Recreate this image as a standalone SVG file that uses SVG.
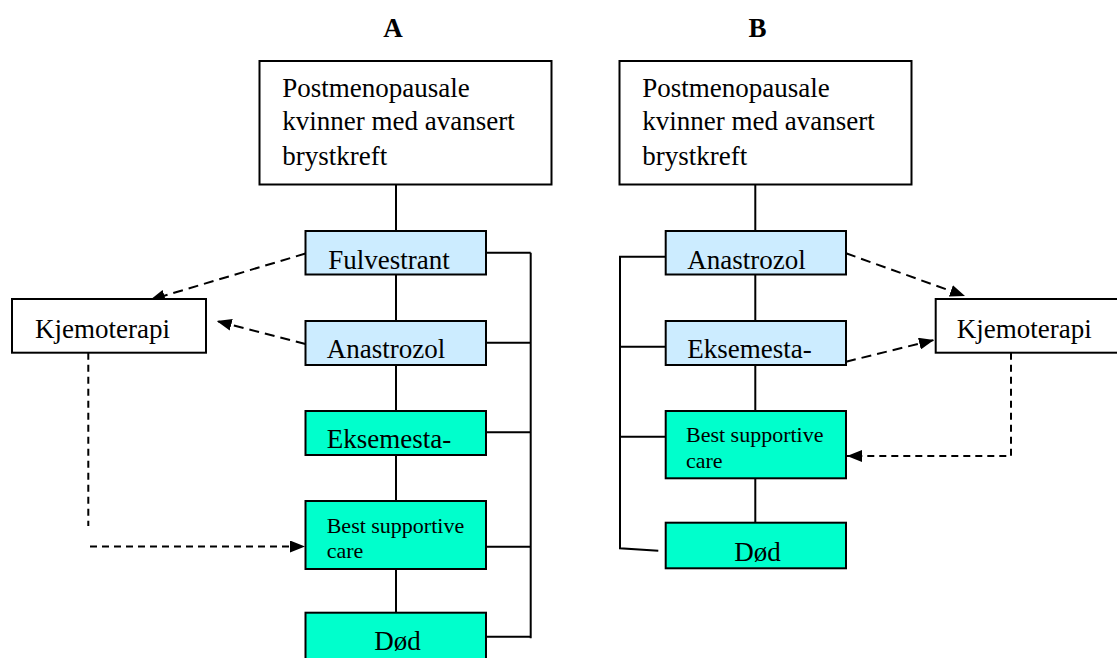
<svg xmlns="http://www.w3.org/2000/svg" width="1117" height="658" viewBox="0 0 1117 658">
<style>
text{font-family:"Liberation Serif","Times New Roman",serif;font-size:27px;fill:#000}
.h{font-weight:bold}
.sm{font-size:22px}
.box{stroke:#000;stroke-width:2}
.w{fill:#fff}
.lb{fill:#CCECFF}
.tq{fill:#00FFCC}
.ln{fill:none;stroke:#000;stroke-width:2}
.dl{fill:none;stroke:#000;stroke-width:2;stroke-dasharray:10 6}
.ds{fill:none;stroke:#000;stroke-width:2;stroke-dasharray:7 5}
</style>
<defs>
<marker id="ah" viewBox="0 0 15 12" refX="15" refY="6" markerWidth="15" markerHeight="12" orient="auto" markerUnits="userSpaceOnUse">
<path d="M0,0 L15,6 L0,12 z" fill="#000"/>
</marker>
</defs>
<text class="h" x="393" y="37" text-anchor="middle">A</text>
<text class="h" x="757.5" y="37" text-anchor="middle">B</text>
<g id="connectors">
<path class="ln" d="M396,184.3V231M396,274.3V321M396,365V411M396,455V501M396,569V612.7"/>
<path class="ln" d="M486,252.7H530.7M486,342.7H530.7M486,432.3H530.7M486,546.7H530.7M486,636.7H530.7M530.7,252.7V638.3"/>
<path class="ln" d="M755.3,184.3V231M755.3,274.3V321M755.3,365V411M755.3,478.3V522.7"/>
<path class="ln" d="M665.7,256.7H620V548.3L658.3,550.7M620,346.7H665.7M620,436.7H665.7"/>
<path class="dl" d="M305.5,253.5L150,300" marker-end="url(#ah)"/>
<path class="dl" d="M305.5,344L216.7,321" marker-end="url(#ah)"/>
<path class="ds" d="M88.3,352.7V526"/>
<path class="ds" d="M90,546.5H305" marker-end="url(#ah)"/>
<path class="dl" d="M846,253.3L965,296" marker-end="url(#ah)"/>
<path class="dl" d="M846,361.7L934,340" marker-end="url(#ah)"/>
<path class="ds" d="M1011,352.7V456H847" marker-end="url(#ah)"/>
</g>
<g id="a-top"><rect class="box w" x="259.5" y="61" width="292" height="123.5"/>
<text x="282.3" y="97">Postmenopausale</text><text x="282.3" y="130">kvinner med avansert</text><text x="282.3" y="165">brystkreft</text></g>
<g id="a-fulvestrant"><rect class="box lb" x="305.5" y="231" width="180.5" height="43.5"/><text x="328.3" y="269.3">Fulvestrant</text></g>
<g id="a-anastrozol"><rect class="box lb" x="305.5" y="321" width="180.5" height="44"/><text x="326.7" y="358.3">Anastrozol</text></g>
<g id="a-eksemestan"><rect class="box tq" x="305.5" y="411" width="180.5" height="44"/><text x="326.7" y="448.3">Eksemesta-</text></g>
<g id="a-bsc"><rect class="box tq" x="305.5" y="501" width="180.5" height="68"/><text class="sm" x="326.7" y="532.7">Best supportive</text><text class="sm" x="326.7" y="558.3">care</text></g>
<g id="a-dod"><rect class="box tq" x="305.5" y="612.7" width="180.5" height="60"/><text x="374.3" y="650">Død</text></g>
<g id="a-kjemo"><rect class="box w" x="12" y="299" width="194" height="53.7"/><text x="35" y="338.3">Kjemoterapi</text></g>
<g id="b-top"><rect class="box w" x="619.5" y="61" width="292" height="123.5"/>
<text x="642.3" y="97">Postmenopausale</text><text x="642.3" y="130">kvinner med avansert</text><text x="642.3" y="165">brystkreft</text></g>
<g id="b-anastrozol"><rect class="box lb" x="665.7" y="231" width="180.3" height="43.5"/><text x="687.3" y="269.3">Anastrozol</text></g>
<g id="b-eksemestan"><rect class="box lb" x="665.7" y="321" width="180.3" height="44"/><text x="687.3" y="358.3">Eksemesta-</text></g>
<g id="b-bsc"><rect class="box tq" x="665.7" y="411" width="180.3" height="67.3"/><text class="sm" x="686" y="441.7">Best supportive</text><text class="sm" x="686" y="468.3">care</text></g>
<g id="b-dod"><rect class="box tq" x="665.7" y="522.7" width="180.3" height="45.6"/><text x="734.3" y="560.7">Død</text></g>
<g id="b-kjemo"><rect class="box w" x="935.7" y="299" width="190" height="53.7"/><text x="956.7" y="338.3">Kjemoterapi</text></g>
</svg>
